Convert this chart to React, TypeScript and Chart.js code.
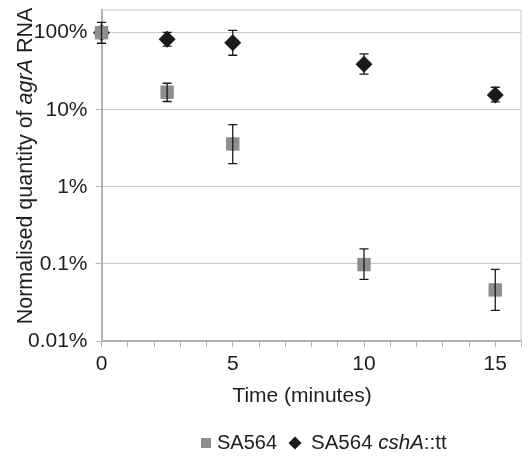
import React, { useEffect, useRef } from "react";
import { Chart, registerables } from "chart.js";

Chart.register(...registerables);

// ---- Data ----
const timePoints = [0, 2.5, 5, 10, 15];
const sa564Values = [1.0, 0.169, 0.036, 0.00098, 0.00046];
const sa564Low = [0.73, 0.128, 0.02, 0.00063, 0.00025];
const sa564High = [1.36, 0.221, 0.064, 0.00157, 0.00085];
const cshaValues = [1.0, 0.82, 0.74, 0.39, 0.156];
const cshaLow = [1.0, 0.67, 0.51, 0.29, 0.127];
const cshaHigh = [1.0, 1.01, 1.07, 0.53, 0.196];

const yTickValues = [0.0001, 0.001, 0.01, 0.1, 1];
const yTickLabels = ["0.01%", "0.1%", "1%", "10%", "100%"];
const xLabelValues = [0, 5, 10, 15];

const seriesNames = ["SA564", "SA564 cshA::tt"];
// legend / title segments: [text, italic]
const legendSegments: [string, boolean][][] = [
  [["SA564", false]],
  [["SA564 ", false], ["cshA", true], ["::tt", false]],
];
const yTitleSegments: [string, boolean][] = [
  ["Normalised quantity of ", false],
  ["agrA", true],
  [" RNA", false],
];
const xTitle = "Time (minutes)";

const FONT = '"Liberation Sans", Arial, Helvetica, sans-serif';
const TEXT = "#1e1e1e";
const GRID = "#c9c9c9";
const AXIS = "#b3b3b3";
const SQUARE = "#8e8e8e";
const DIAMOND = "#1a1a1a";

const errorData = [
  { low: sa564Low, high: sa564High },
  { low: cshaLow, high: cshaHigh },
];

function drawSegments(ctx: CanvasRenderingContext2D, segs: [string, boolean][], x: number, y: number, size: number, center: boolean) {
  const fontFor = (it: boolean) => `${it ? "italic " : ""}${size}px ${FONT}`;
  let total = 0;
  for (const [t, it] of segs) {
    ctx.font = fontFor(it);
    total += ctx.measureText(t).width;
  }
  let cx = center ? x - total / 2 : x;
  for (const [t, it] of segs) {
    ctx.font = fontFor(it);
    ctx.fillText(t, cx, y);
    cx += ctx.measureText(t).width;
  }
  return total;
}

const decorPlugin = {
  id: "decor",
  afterDatasetsDraw(chart: any) {
    const ctx = chart.ctx as CanvasRenderingContext2D;
    const xs = chart.scales.x;
    const ys = chart.scales.y;
    ctx.save();
    ctx.strokeStyle = DIAMOND;
    ctx.lineWidth = 1.3;
    errorData.forEach((e) => {
      timePoints.forEach((t, i) => {
        if (e.low[i] === e.high[i]) return;
        const px = xs.getPixelForValue(t);
        const y1 = ys.getPixelForValue(e.high[i]);
        const y2 = ys.getPixelForValue(e.low[i]);
        ctx.beginPath();
        ctx.moveTo(px, y1);
        ctx.lineTo(px, y2);
        ctx.moveTo(px - 4.5, y1);
        ctx.lineTo(px + 4.5, y1);
        ctx.moveTo(px - 4.5, y2);
        ctx.lineTo(px + 4.5, y2);
        ctx.stroke();
      });
    });
    ctx.restore();
  },
  afterDraw(chart: any) {
    const ctx = chart.ctx as CanvasRenderingContext2D;
    const ca = chart.chartArea;
    ctx.save();
    // top and right border of plot
    ctx.strokeStyle = GRID;
    ctx.lineWidth = 1;
    ctx.beginPath();
    ctx.moveTo(ca.left, ca.top + 0.5);
    ctx.lineTo(ca.right - 0.5, ca.top + 0.5);
    ctx.lineTo(ca.right - 0.5, ca.bottom);
    ctx.stroke();

    ctx.fillStyle = TEXT;
    ctx.textBaseline = "middle";
    // y title
    ctx.save();
    ctx.translate(26, 166);
    ctx.rotate(-Math.PI / 2);
    drawSegments(ctx, yTitleSegments, 0, 0, 21.5, true);
    ctx.restore();
    // x title
    ctx.textAlign = "left";
    drawSegments(ctx, [[xTitle, false]], 302, 396, 21, true);

    // legend
    const ly = 443;
    ctx.fillStyle = SQUARE;
    ctx.fillRect(201, ly - 5, 10, 10);
    ctx.fillStyle = TEXT;
    drawSegments(ctx, legendSegments[0], 217, ly, 20, false);
    ctx.fillStyle = DIAMOND;
    ctx.beginPath();
    ctx.moveTo(295, ly - 6.5);
    ctx.lineTo(301.5, ly);
    ctx.lineTo(295, ly + 6.5);
    ctx.lineTo(288.5, ly);
    ctx.closePath();
    ctx.fill();
    ctx.fillStyle = TEXT;
    drawSegments(ctx, legendSegments[1], 311, ly, 20.5, false);
    ctx.restore();
  },
};

export default function App() {
  const ref = useRef<HTMLCanvasElement | null>(null);
  useEffect(() => {
    if (!ref.current) return;
    const chart = new Chart(ref.current, {
      type: "scatter",
      data: {
        datasets: [
          {
            label: seriesNames[0],
            data: timePoints.map((t, i) => ({ x: t, y: sa564Values[i] })),
            pointStyle: "rect",
            pointRadius: 9.5,
            pointHoverRadius: 9.5,
            backgroundColor: SQUARE,
            borderWidth: 0,
            showLine: false,
            clip: false,
          },
          {
            label: seriesNames[1],
            data: timePoints.map((t, i) => ({ x: t, y: cshaValues[i] })),
            pointStyle: "rectRot",
            pointRadius: 8.5,
            pointHoverRadius: 8.5,
            backgroundColor: DIAMOND,
            borderWidth: 0,
            showLine: false,
            clip: false,
          },
        ],
      },
      options: {
        animation: false,
        responsive: false,
        events: [],
        layout: { padding: { top: 7, right: 4, left: 0, bottom: 0 } },
        plugins: { legend: { display: false }, tooltip: { enabled: false }, title: { display: false } },
        scales: {
          x: {
            type: "linear",
            min: 0,
            max: 16,
            ticks: {
              stepSize: 1,
              autoSkip: false,
              maxRotation: 0,
              padding: 5,
              color: TEXT,
              font: { size: 21, family: FONT },
              callback: (v: any) => (xLabelValues.includes(Number(v)) ? String(v) : ""),
            },
            grid: { drawOnChartArea: false, tickLength: 6, color: AXIS, lineWidth: 1 },
            border: { color: AXIS, width: 2 },
            afterFit: (s: any) => {
              s.height = 115;
              s.paddingLeft = 0;
              s.paddingRight = 0;
              s.paddingTop = 0;
              s.paddingBottom = 0;
            },
          },
          y: {
            type: "logarithmic",
            min: 0.0001,
            max: 2,
            afterBuildTicks: (s: any) => {
              s.ticks = yTickValues.map((v) => ({ value: v }));
            },
            ticks: {
              autoSkip: false,
              padding: 8,
              color: TEXT,
              font: { size: 21, family: FONT },
              callback: (v: any) => {
                const idx = yTickValues.findIndex((t) => Math.abs(t - Number(v)) < t * 1e-6);
                return idx >= 0 ? yTickLabels[idx] : "";
              },
            },
            grid: { color: GRID, lineWidth: 1, tickLength: 6, tickColor: AXIS },
            border: { color: AXIS, width: 2 },
            afterFit: (s: any) => {
              s.width = 101.5;
              s.paddingTop = 0;
              s.paddingBottom = 0;
              s.paddingLeft = 0;
              s.paddingRight = 0;
            },
          },
        },
      },
      plugins: [decorPlugin],
    });
    return () => chart.destroy();
  }, []);
  return (
    <div style={{ position: "absolute", left: 0, top: 0, width: 531, height: 456, background: "#fff" }}>
      <canvas ref={ref} width={531} height={456} style={{ display: "block" }} />
    </div>
  );
}
